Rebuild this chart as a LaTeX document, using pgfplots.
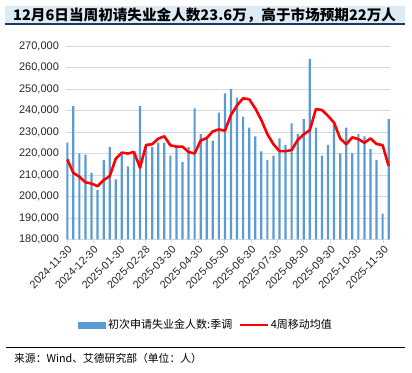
\documentclass[border=0pt]{standalone}
\usepackage{fontspec}
\setmainfont{Liberation Sans}
\newfontfamily\cjk{Noto Sans CJK SC}
\usepackage{pgfplots}
\usepackage{pgfplotstable}
\pgfplotsset{compat=1.18}
\definecolor{barblue}{HTML}{5B9BD5}
\definecolor{titlebg}{HTML}{DDEBF7}
\definecolor{titleline}{HTML}{1F3864}
\definecolor{gridgray}{HTML}{D9D9D9}

\pgfplotstableread{
d bar ma
0 225000 217300
7 242000 211000
14 220000 209200
21 219500 206600
28 211000 206000
35 203000 204800
42 217000 207600
49 223000 209500
56 208000 217600
63 220000 220400
70 214000 220000
77 220000 220700
84 242000 213400
91 223000 224000
98 223000 224300
105 225000 226900
112 225000 228000
119 219000 223800
126 224000 223200
133 216000 223200
140 223000 220700
147 241000 220000
154 229000 226000
161 227000 227200
168 226000 230300
175 239000 231200
182 248000 230600
189 250000 238000
196 246000 242400
203 237000 245700
210 232000 245200
217 228000 241000
224 221000 235600
231 217000 229000
238 219000 224300
245 227000 221100
252 224000 221100
259 234000 221600
266 229000 226300
273 236000 228900
280 264000 230900
287 232000 240700
294 219000 240200
301 224000 237500
308 234000 234300
315 220000 227000
322 232000 224300
329 220000 227500
336 229000 226700
343 228000 225000
350 222000 227000
357 217000 224400
364 192000 223900
371 236000 214200
}\claims

\begin{document}
\begin{tikzpicture}
\path[use as bounding box] (0bp,0bp) rectangle (412bp,373bp);
\fill[titlebg] (5bp,349bp) rectangle (405bp,367bp);
\draw[titleline, line width=1.5bp] (5bp,348.75bp) -- (405bp,348.75bp);
\node[anchor=west, inner sep=0pt, font=\cjk\bfseries\fontsize{14.6bp}{16bp}\selectfont] at (13bp,358bp) {12月6日当周初请失业金人数23.6万，高于市场预期22万人};
\draw[black, line width=0.8bp] (6bp,26bp) -- (405bp,26bp);
\node[anchor=west, inner sep=0pt, font=\cjk\fontsize{10.8bp}{12bp}\selectfont] at (14bp,15bp) {来源：Wind、艾德研究部（单位：人）};
\begin{axis}[
  at={(66.4bp,133.5bp)}, anchor=south west,
  scale only axis, width=324bp, height=193.5bp,
  xmin=-1, xmax=373, ymin=180000, ymax=270000,
  axis line style={draw=none},
  ymajorgrids, major grid style={draw=gridgray, line width=0.8bp},
  ytick={180000,190000,...,270000},
  scaled y ticks=false,
  yticklabel style={font=\fontsize{11bp}{13bp}\selectfont, text=black!85, /pgf/number format/.cd, fixed, 1000 sep={,}, assume math mode=true},
  xtick={0,30,61,90,120,151,181,212,242,273,304,334,365},
  xticklabels={2024-11-30,2024-12-30,2025-01-30,2025-02-28,2025-03-30,2025-04-30,2025-05-30,2025-06-30,2025-07-30,2025-08-30,2025-09-30,2025-10-30,2025-11-30},
  xticklabel style={font=\fontsize{10.8bp}{12bp}\selectfont, text=black!85, rotate=45, anchor=north east, inner sep=1bp},
  tick pos=left, tick align=outside, major tick length=4bp,
  xtick style={draw=gridgray, line width=0.8bp},
  ytick style={draw=none},
  legend columns=2,
  legend style={at={(0.431,-0.442)}, anchor=center, draw=none, fill=none,
    font=\cjk\fontsize{11bp}{13bp}\selectfont,
    /tikz/every even column/.append style={column sep=4bp}},
]
\addplot[ybar, bar width=2.2bp, fill=barblue, draw=none,
  legend image code/.code={\fill[barblue] (0bp,-3.5bp) rectangle (28bp,3.5bp);}]
  table[x=d, y=bar] {\claims};
\addlegendentry{初次申请失业金人数:季调}
\addplot[red, line width=2.6bp, line join=round, no marks,
  legend image code/.code={\draw[red, line width=2.5bp] (0bp,0bp) -- (28bp,0bp);}]
  table[x=d, y=ma] {\claims};
\addlegendentry{4周移动均值}
\end{axis}
\end{tikzpicture}
\end{document}
